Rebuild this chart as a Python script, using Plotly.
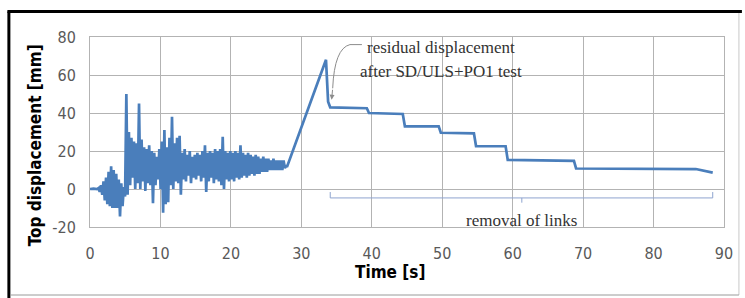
import plotly.graph_objects as go

# ---------------- data ----------------
# quiet start of the record
start_t = [0.0, 0.5, 1.0]
start_v = [0.0, 0.2, 0.0]

# dynamic (pseudo-dynamic) part, sampled every 0.18 s from 1.2 s
dyn_t0 = 1.2
dyn_dt = 0.18
dyn_v = [
    0.5, -1.5, 2, -3, 4, -6, 6, -8, 9, -9,
    12, -10, 10, -10, 8, -10, 5, -14.5, 3, -9,
    1, -4, 50, -3, 30, 2, 27, 6, 25, 0,
    24, 3, 45, 0, 26, 4, 22, -1, 21, 3,
    23, 2, 20, -7.5, 19, 2, 17, 5, 21, 0,
    25, -12.5, 31, -8, 22, -7, 27, 2, 38, 0,
    24, 4, 27, 3, 28, -3, 19, 5, 21, 4,
    18, 7, 20, 3, 17, 6, 18, 5, 19, 7,
    18, 4, 20, 6, 23, -1.5, 19, 4, 20, 6,
    19, 3, 21, 5, 20, 4, 21, 2, 27.5, 0,
    20, 5, 19, 4, 20, 5, 19, 4, 20, 6,
    19, 5, 23, 6, 19, 7, 18, 6, 19, 7,
    18, 8, 17, 7, 18, 8, 17, 8, 16, 9,
    17, 9, 16, 9, 16, 10, 15, 10, 16, 10,
    15, 10, 15, 10, 15, 10, 15, 11, 12,
]

# pushover ramp and residual steps (removal of links)
step_t = [28.0, 33.5, 33.8, 34.1, 39.3, 39.6, 44.4, 44.7, 49.5, 49.8,
          54.5, 54.8, 59.0, 59.3, 68.7, 69.0, 86.0, 87.5, 88.4]
step_v = [12, 68, 46, 43, 42.5, 40, 39.5, 33, 33, 29.6,
          29.3, 22.6, 22.5, 15.3, 14.8, 10.8, 10.5, 9.5, 8.6]

x_ticks = [0, 10, 20, 30, 40, 50, 60, 70, 80, 90]
y_ticks = [-20, 0, 20, 40, 60, 80]

# ---------------- build series ----------------
dyn_t = [round(dyn_t0 + i * dyn_dt, 3) for i in range(len(dyn_v))]
t_all = start_t + dyn_t + step_t
v_all = start_v + dyn_v + step_v

W, H = 745, 298
L, R, T, B = 90, 18, 37, 71
PW, PH = W - L - R, H - T - B


def px(x):
    return (x - L) / PW


def py(y):
    return (H - B - y) / PH


fig = go.Figure()
fig.add_trace(go.Scatter(
    x=t_all, y=v_all, mode="lines",
    line=dict(color="#4a7ebb", width=2.7),
    showlegend=False, hoverinfo="skip",
))

grid = "#b3b3b3"
tickfont = dict(family="Liberation Sans Narrow, DejaVu Sans Condensed, Arial Narrow, sans-serif",
                size=16, color="#595959")

fig.update_layout(
    width=W, height=H,
    margin=dict(l=L, r=R, t=T, b=B),
    paper_bgcolor="white", plot_bgcolor="white",
    xaxis=dict(range=[0, 90], tickvals=x_ticks, ticktext=[str(v) for v in x_ticks],
               showgrid=True, gridcolor=grid, gridwidth=1, zeroline=False,
               showline=True, linecolor=grid, mirror=True, ticks="",
               tickfont=tickfont, ticklabelstandoff=12),
    yaxis=dict(range=[-20, 80], tickvals=y_ticks, ticktext=[str(v) for v in y_ticks],
               showgrid=True, gridcolor=grid, gridwidth=1, zeroline=False,
               showline=True, linecolor=grid, mirror=True, ticks="",
               tickfont=tickfont, ticklabelstandoff=10),
)

serif = dict(family="Liberation Serif, Times New Roman, serif", size=17, color="#333333")
bold = dict(family="Liberation Sans Narrow, DejaVu Sans Condensed, Arial Narrow, sans-serif",
            size=17, color="#000000")

annotations = [
    dict(x=px(35), y=py(145), xref="paper", yref="paper", text="<b>Top displacement [mm]</b>",
         textangle=-90, showarrow=False, font=bold, xanchor="center", yanchor="middle"),
    dict(x=px(391), y=py(272), xref="paper", yref="paper", text="<b>Time [s]</b>",
         showarrow=False, font=bold, xanchor="center", yanchor="middle"),
    dict(x=px(366), y=py(47), xref="paper", yref="paper", text="residual displacement",
         showarrow=False, font=serif, xanchor="left", yanchor="middle"),
    dict(x=px(359), y=py(71), xref="paper", yref="paper", text="after SD/ULS+PO1 test",
         showarrow=False, font=serif, xanchor="left", yanchor="middle"),
    dict(x=px(524), y=py(220), xref="paper", yref="paper", text="removal of links",
         showarrow=False, font=serif, xanchor="center", yanchor="middle"),
    # arrow head of the curved pointer
    dict(x=34.3, y=47, xref="x", yref="y", text="", showarrow=True,
         ax=34.45, ay=53, axref="x", ayref="y",
         arrowhead=2, arrowsize=1, arrowwidth=1, arrowcolor="#8c8c8c"),
]

shapes = [
    # curved pointer line
    dict(type="path", xref="x", yref="y",
         path="M 38.6,76 L 36.9,76 Q 34.7,74 34.45,53",
         line=dict(color="#8c8c8c", width=1)),
    # bracket for removal of links
    dict(type="path", xref="x", yref="y",
         path="M 34.1,-1.6 L 34.1,-4.7 L 88.4,-4.7 L 88.4,-1.6",
         line=dict(color="#8ea4cf", width=1)),
    dict(type="line", xref="x", yref="y", x0=61.3, x1=61.3, y0=-4.7, y1=-7.2,
         line=dict(color="#8ea4cf", width=1)),
    # picture frame
    dict(type="line", xref="paper", yref="paper", x0=px(8.5), x1=px(8.5), y0=py(11.5), y1=py(298),
         line=dict(color="black", width=3)),
    dict(type="line", xref="paper", yref="paper", x0=px(7), x1=px(745), y0=py(11.5), y1=py(11.5),
         line=dict(color="black", width=3)),
    dict(type="line", xref="paper", yref="paper", x0=px(742), x1=px(742), y0=py(13), y1=py(295),
         line=dict(color="#c8c8c8", width=1)),
    dict(type="line", xref="paper", yref="paper", x0=px(10), x1=px(742), y0=py(295), y1=py(295),
         line=dict(color="#9a9a9a", width=1)),
]

fig.update_layout(annotations=annotations, shapes=shapes)
fig.write_html("out.html", config={"displayModeBar": False},
               post_script="document.body.style.margin='0px';document.body.style.overflow='hidden';")
